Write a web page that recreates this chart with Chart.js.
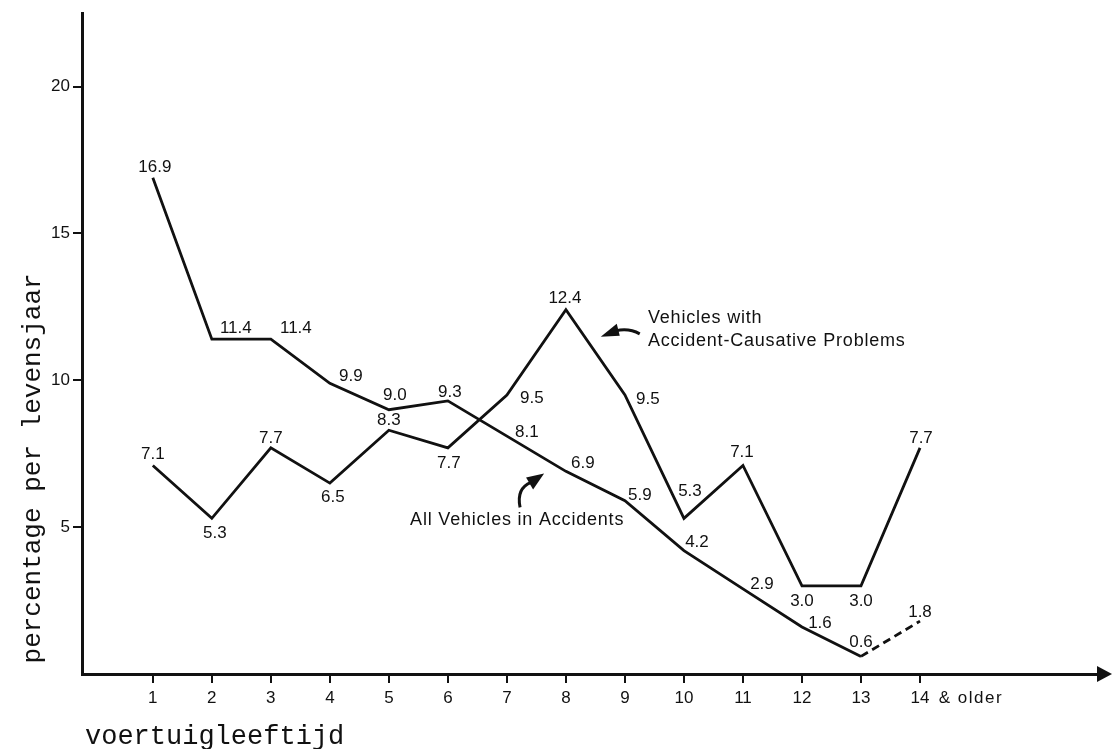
<!DOCTYPE html>
<html>
<head>
<meta charset="utf-8">
<script src="https://cdn.jsdelivr.net/npm/chart.js@4/dist/chart.umd.min.js"></script>
<style>
  html, body { margin: 0; padding: 0; background: #fff; }
  #wrap { width: 1112px; height: 749px; position: relative; }
</style>
</head>
<body>
<div id="wrap"><canvas id="myChart"></canvas></div>
<script>
// chart values
const ageLabels = ['1','2','3','4','5','6','7','8','9','10','11','12','13','14 & older'];
const allVehicles = [16.9, 11.4, 11.4, 9.9, 9.0, 9.3, 8.1, 6.9, 5.9, 4.2, 2.9, 1.6, 0.6, 1.8];
const causeVehicles = [7.1, 5.3, 7.7, 6.5, 8.3, 7.7, 9.5, 12.4, 9.5, 5.3, 7.1, 3.0, 3.0, 7.7];
const yTicks = [5, 10, 15, 20];
const yTitle = 'percentage per levensjaar';
const xTitle = 'voertuigleeftijd';

// where each value label sits next to its point (px offset)
const allOffsets = [[2,-10],[24,-11],[25,-11],[21,-7],[6,-14],[2,-9],[20,-4],[17,-8],[15,-5],[13,-8],[19,-5],[18,-4],[0,-14],[0,-9]];
const causeOffsets = [[0,-11],[3,15],[0,-10],[3,14],[0,-10],[1,15],[25,3],[-1,-12],[23,4],[6,-27],[-1,-13],[0,15],[0,15],[1,-10]];

const ink = '#111';
const sans = '"Liberation Sans", Arial, sans-serif';
const mono = '"Liberation Mono", "DejaVu Sans Mono", monospace';

const toPoints = arr => arr.map((v, i) => ({ x: i + 1, y: v }));

const decor = {
  id: 'decor',
  afterDatasetsDraw(chart) {
    const ctx = chart.ctx;
    const xs = chart.scales.x, ys = chart.scales.y;
    const area = chart.chartArea;
    const spacing = v => { if ('letterSpacing' in ctx) ctx.letterSpacing = v; };
    ctx.save();
    ctx.fillStyle = ink;
    ctx.strokeStyle = ink;

    // value labels
    ctx.font = '17px ' + sans;
    ctx.textAlign = 'center';
    ctx.textBaseline = 'middle';
    const label = (vals, offs) => vals.forEach((v, i) => {
      const px = xs.getPixelForValue(i + 1) + offs[i][0];
      const py = ys.getPixelForValue(v) + offs[i][1];
      ctx.fillText(v.toFixed(1), px, py);
    });
    label(allVehicles, allOffsets);
    label(causeVehicles, causeOffsets);

    // x tick labels, number centred on the tick
    ageLabels.forEach((t, i) => {
      const parts = t.split(' ');
      const num = parts[0];
      const w = ctx.measureText(num).width;
      const lx = xs.getPixelForValue(i + 1) - w / 2;
      const ly = area.bottom + 24;
      ctx.textAlign = 'left';
      ctx.fillText(num, lx, ly);
      if (parts.length > 1) {
        spacing('1.5px');
        ctx.fillText(' ' + parts.slice(1).join(' '), lx + w + 3, ly);
        spacing('0px');
      }
    });

    // series annotations
    ctx.font = '18px ' + sans;
    spacing('0.8px');
    ctx.textAlign = 'left';
    let ax = xs.getPixelForValue(9.39);
    ctx.fillText('Vehicles with', ax, ys.getPixelForValue(12.12));
    ctx.fillText('Accident-Causative Problems', ax, ys.getPixelForValue(11.34));
    ctx.fillText('All Vehicles in Accidents', xs.getPixelForValue(5.36), ys.getPixelForValue(5.23));
    spacing('0px');

    // curved pointer arrows
    ctx.lineWidth = 3;
    let tx = xs.getPixelForValue(8.59), ty = ys.getPixelForValue(11.48);
    ctx.beginPath();
    ctx.moveTo(tx + 39, ty - 3);
    ctx.quadraticCurveTo(tx + 28, ty - 9, tx + 15, ty - 6);
    ctx.stroke();
    ctx.beginPath();
    ctx.moveTo(tx, ty);
    ctx.lineTo(tx + 16, ty - 13);
    ctx.lineTo(tx + 19, ty - 1);
    ctx.closePath();
    ctx.fill();

    tx = xs.getPixelForValue(7.63); ty = ys.getPixelForValue(6.83);
    ctx.beginPath();
    ctx.moveTo(tx - 24, ty + 34);
    ctx.quadraticCurveTo(tx - 28, ty + 15, tx - 13, ty + 9);
    ctx.stroke();
    ctx.beginPath();
    ctx.moveTo(tx, ty);
    ctx.lineTo(tx - 18, ty + 4);
    ctx.lineTo(tx - 11, ty + 16);
    ctx.closePath();
    ctx.fill();

    // axis titles (typewriter style)
    ctx.font = '26px ' + mono;
    ctx.textAlign = 'center';
    ctx.save();
    ctx.translate(33, ys.getPixelForValue(7.0));
    ctx.rotate(-Math.PI / 2);
    ctx.fillText(yTitle, 0, 0);
    ctx.restore();
    ctx.font = '27px ' + mono;
    ctx.textAlign = 'left';
    ctx.fillText(xTitle, area.left + 3, area.bottom + 63);

    // arrow head at the end of the x axis
    ctx.beginPath();
    ctx.moveTo(area.right - 3, area.bottom - 8);
    ctx.lineTo(chart.width, area.bottom);
    ctx.lineTo(area.right - 3, area.bottom + 8);
    ctx.closePath();
    ctx.fill();
    ctx.restore();
  }
};

const myChart = new Chart(document.getElementById('myChart'), {
  type: 'line',
  data: {
    datasets: [
      {
        label: 'All Vehicles in Accidents',
        data: toPoints(allVehicles),
        borderColor: ink,
        borderWidth: 2.8,
        pointRadius: 0,
        tension: 0,
        segment: {
          borderDash: c => c.p0DataIndex === allVehicles.length - 2 ? [8, 5] : undefined
        }
      },
      {
        label: 'Vehicles with Accident-Causative Problems',
        data: toPoints(causeVehicles),
        borderColor: ink,
        borderWidth: 2.8,
        pointRadius: 0,
        tension: 0
      }
    ]
  },
  options: {
    responsive: true,
    maintainAspectRatio: false,
    animation: false,
    layout: { padding: { top: 12, right: 12, left: 0, bottom: 0 } },
    plugins: {
      legend: { display: false },
      tooltip: { enabled: false }
    },
    scales: {
      x: {
        type: 'linear',
        min: -0.2,
        max: 17.05,
        afterBuildTicks: s => { s.ticks = ageLabels.map((t, i) => ({ value: i + 1 })); },
        afterFit: s => { s.height = 75; },
        ticks: { display: false },
        grid: { drawOnChartArea: false, drawTicks: true, tickLength: 9, color: ink, lineWidth: 2 },
        border: { display: true, color: ink, width: 3 }
      },
      y: {
        min: 0,
        max: 22.5,
        afterBuildTicks: s => { s.ticks = yTicks.map(v => ({ value: v })); },
        afterFit: s => { s.width = 82; },
        ticks: { color: ink, font: { family: sans, size: 17 }, padding: 3 },
        grid: { drawOnChartArea: false, drawTicks: true, tickLength: 9, color: ink, lineWidth: 2 },
        border: { display: true, color: ink, width: 3 }
      }
    }
  },
  plugins: [decor]
});
</script>
</body>
</html>
